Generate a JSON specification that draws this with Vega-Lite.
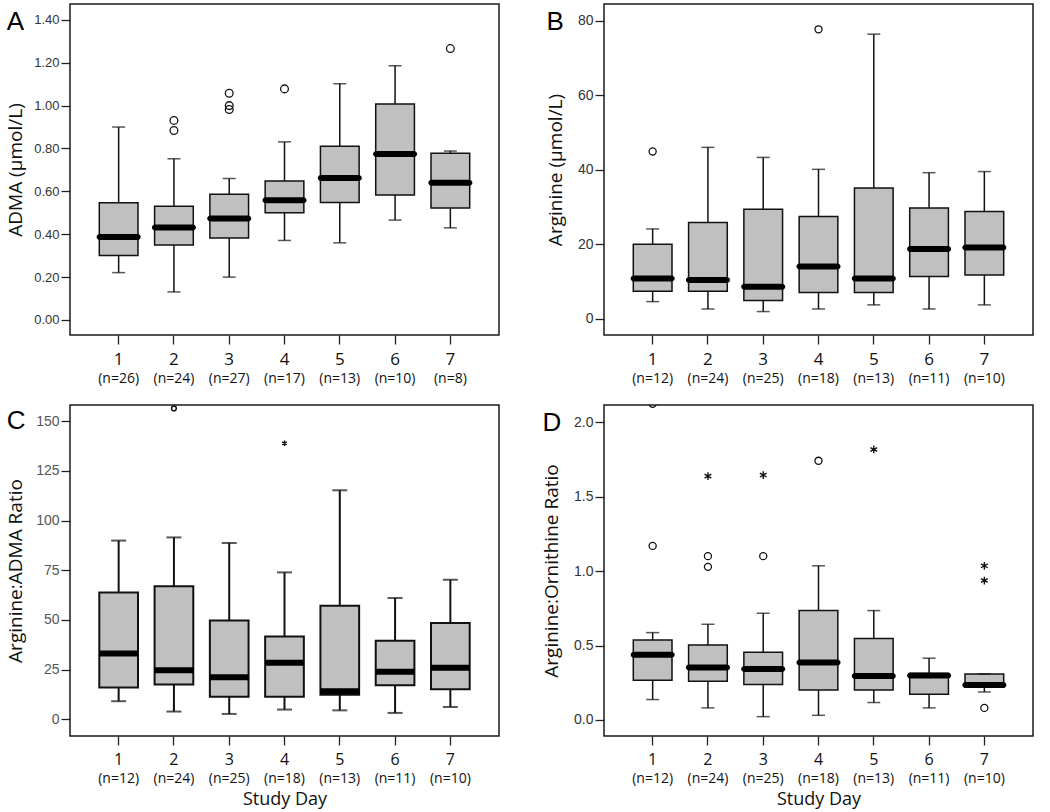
{
  "$schema": "https://vega.github.io/schema/vega-lite/v6.json",
  "background": "white",
  "padding": {"left": 5, "top": 3, "right": 5, "bottom": 1},
  "datasets": {
    "boxA": [
      {"day": 1, "lo": 0.221, "q1": 0.301, "med": 0.387, "q3": 0.547, "hi": 0.900},
      {"day": 2, "lo": 0.131, "q1": 0.350, "med": 0.432, "q3": 0.531, "hi": 0.752},
      {"day": 3, "lo": 0.200, "q1": 0.382, "med": 0.474, "q3": 0.586, "hi": 0.660},
      {"day": 4, "lo": 0.371, "q1": 0.500, "med": 0.559, "q3": 0.648, "hi": 0.831},
      {"day": 5, "lo": 0.360, "q1": 0.548, "med": 0.662, "q3": 0.810, "hi": 1.102},
      {"day": 6, "lo": 0.466, "q1": 0.583, "med": 0.774, "q3": 1.007, "hi": 1.186},
      {"day": 7, "lo": 0.430, "q1": 0.522, "med": 0.640, "q3": 0.778, "hi": 0.788}
    ],
    "outA": [
      {"day": 2, "value": 0.931}, {"day": 2, "value": 0.884},
      {"day": 3, "value": 1.058}, {"day": 3, "value": 1.000}, {"day": 3, "value": 0.982},
      {"day": 4, "value": 1.078}, {"day": 7, "value": 1.266}
    ],
    "boxB": [
      {"day": 1, "lo": 4.57, "q1": 7.35, "med": 10.75, "q3": 20.0, "hi": 24.1},
      {"day": 2, "lo": 2.6, "q1": 7.35, "med": 10.4, "q3": 25.8, "hi": 46.0},
      {"day": 3, "lo": 1.9, "q1": 4.9, "med": 8.6, "q3": 29.4, "hi": 43.3},
      {"day": 4, "lo": 2.6, "q1": 7.0, "med": 14.0, "q3": 27.4, "hi": 40.1},
      {"day": 5, "lo": 3.7, "q1": 7.0, "med": 10.75, "q3": 35.1, "hi": 76.4},
      {"day": 6, "lo": 2.6, "q1": 11.3, "med": 18.7, "q3": 29.7, "hi": 39.2},
      {"day": 7, "lo": 3.7, "q1": 11.7, "med": 19.1, "q3": 28.8, "hi": 39.5}
    ],
    "outB": [
      {"day": 1, "value": 44.9}, {"day": 4, "value": 77.7}
    ],
    "boxC": [
      {"day": 1, "lo": 9.1, "q1": 16.0, "med": 33.1, "q3": 63.8, "hi": 89.9},
      {"day": 2, "lo": 3.9, "q1": 17.5, "med": 24.7, "q3": 66.9, "hi": 91.5},
      {"day": 3, "lo": 2.7, "q1": 11.3, "med": 21.2, "q3": 49.7, "hi": 88.7},
      {"day": 4, "lo": 4.9, "q1": 11.4, "med": 28.4, "q3": 41.7, "hi": 73.9},
      {"day": 5, "lo": 4.5, "q1": 12.3, "med": 14.1, "q3": 57.1, "hi": 115.2},
      {"day": 6, "lo": 3.2, "q1": 17.1, "med": 23.9, "q3": 39.5, "hi": 61.0},
      {"day": 7, "lo": 6.2, "q1": 15.1, "med": 25.9, "q3": 48.5, "hi": 70.2}
    ],
    "outC": [
      {"day": 2, "value": 156.4}
    ],
    "extC": [
      {"day": 4, "value": 138.9}
    ],
    "boxD": [
      {"day": 1, "lo": 0.137, "q1": 0.267, "med": 0.439, "q3": 0.538, "hi": 0.587},
      {"day": 2, "lo": 0.081, "q1": 0.260, "med": 0.352, "q3": 0.504, "hi": 0.643},
      {"day": 3, "lo": 0.022, "q1": 0.238, "med": 0.343, "q3": 0.455, "hi": 0.717},
      {"day": 4, "lo": 0.031, "q1": 0.202, "med": 0.386, "q3": 0.735, "hi": 1.036},
      {"day": 5, "lo": 0.117, "q1": 0.202, "med": 0.296, "q3": 0.547, "hi": 0.735},
      {"day": 6, "lo": 0.081, "q1": 0.173, "med": 0.298, "q3": 0.312, "hi": 0.415},
      {"day": 7, "lo": 0.188, "q1": 0.222, "med": 0.235, "q3": 0.309, "hi": 0.309}
    ],
    "outD": [
      {"day": 1, "value": 1.170}, {"day": 1, "value": 2.125},
      {"day": 2, "value": 1.101}, {"day": 2, "value": 1.029},
      {"day": 3, "value": 1.101}, {"day": 4, "value": 1.742}, {"day": 7, "value": 0.081}
    ],
    "extD": [
      {"day": 2, "value": 1.639}, {"day": 3, "value": 1.646}, {"day": 5, "value": 1.818},
      {"day": 7, "value": 1.036}, {"day": 7, "value": 0.937}
    ]
  },
  "config": {
    "view": {"stroke": "#1a1a1a", "strokeWidth": 1.5},
    "axis": {"grid": false, "domain": false, "tickColor": "#222", "tickWidth": 1.3, "tickSize": 9},
    "title": {"anchor": "start", "frame": "bounds", "baseline": "alphabetic", "offset": -52, "font": "Liberation Sans", "fontSize": 26, "fontWeight": "normal", "color": "#000"}
  },
  "columns": 2,
  "bounds": "flush",
  "spacing": {"row": 70, "column": 105},
  "concat": [
    {
      "width": 429, "height": 331,
      "title": {"text": "A", "anchor": "start", "frame": "bounds", "baseline": "alphabetic", "offset": -52},
      "resolve": {"axis": {"x": "independent"}},
      "layer": [
        {"data": {"name": "boxA"}, "mark": {"type": "rule", "color": "#111", "strokeWidth": 1.5},
         "encoding": {
           "x": {"field": "day", "type": "ordinal", "scale": {"paddingInner": 0.3, "paddingOuter": 0.53},
                 "axis": {"orient": "bottom", "title": null, "labelAngle": 0, "labelFont": "Open Sans", "labelFontSize": 17, "labelColor": "#111", "labelPadding": 7}},
           "y": {"field": "lo", "type": "quantitative", "scale": {"domain": [-0.07, 1.474], "nice": false, "zero": false},
                 "axis": {"title": "ADMA (µmol/L)", "values": [0, 0.2, 0.4, 0.6, 0.8, 1.0, 1.2, 1.4], "format": ".2f", "labelFont": "Liberation Sans", "labelFontSize": 13, "labelColor": "#333", "labelPadding": 2, "titleFont": "Open Sans", "titleFontSize": 19, "titleFontWeight": "normal", "titleColor": "#111", "titlePadding": 8}},
           "y2": {"field": "q1"}}},
        {"data": {"name": "boxA"}, "mark": {"type": "rule", "color": "#111", "strokeWidth": 1.5},
         "encoding": {"x": {"field": "day", "type": "ordinal", "axis": null}, "y": {"field": "q3", "type": "quantitative"}, "y2": {"field": "hi"}}},
        {"data": {"name": "boxA"}, "mark": {"type": "bar", "fill": "#c0c0c0", "stroke": "#111", "strokeWidth": 1.5},
         "encoding": {
           "x": {"field": "day", "type": "ordinal",
                 "axis": {"orient": "bottom", "title": null, "ticks": false, "labelAngle": 0, "labelFont": "Open Sans", "labelFontSize": 14, "labelColor": "#111", "labelPadding": 36,
                          "labelExpr": "['(n=26)','(n=24)','(n=27)','(n=17)','(n=13)','(n=10)','(n=8)'][datum.value - 1]"}},
           "y": {"field": "q1", "type": "quantitative"}, "y2": {"field": "q3"}}},
        {"data": {"name": "boxA"}, "mark": {"type": "tick", "color": "#111", "size": 13, "thickness": 1.5},
         "encoding": {"x": {"field": "day", "type": "ordinal", "axis": null}, "y": {"field": "lo", "type": "quantitative"}}},
        {"data": {"name": "boxA"}, "mark": {"type": "tick", "color": "#111", "size": 13, "thickness": 1.5},
         "encoding": {"x": {"field": "day", "type": "ordinal", "axis": null}, "y": {"field": "hi", "type": "quantitative"}}},
        {"data": {"name": "boxA"}, "mark": {"type": "tick", "color": "#000", "size": 44, "thickness": 6, "cornerRadius": 3, "opacity": 1},
         "encoding": {"x": {"field": "day", "type": "ordinal", "axis": null}, "y": {"field": "med", "type": "quantitative"}}},
        {"data": {"name": "outA"}, "mark": {"type": "point", "shape": "circle", "filled": false, "color": "#111", "strokeWidth": 1.3, "size": 60, "opacity": 1},
         "encoding": {"x": {"field": "day", "type": "ordinal", "axis": null}, "y": {"field": "value", "type": "quantitative"}}}
      ]
    },
    {
      "width": 429, "height": 331,
      "title": {"text": "B", "anchor": "start", "frame": "bounds", "baseline": "alphabetic", "offset": -52},
      "resolve": {"axis": {"x": "independent"}},
      "layer": [
        {"data": {"name": "boxB"}, "mark": {"type": "rule", "color": "#111", "strokeWidth": 1.5},
         "encoding": {
           "x": {"field": "day", "type": "ordinal", "scale": {"paddingInner": 0.3, "paddingOuter": 0.53},
                 "axis": {"orient": "bottom", "title": null, "labelAngle": 0, "labelFont": "Open Sans", "labelFontSize": 17, "labelColor": "#111", "labelPadding": 7}},
           "y": {"field": "lo", "type": "quantitative", "scale": {"domain": [-4.39, 84.5], "nice": false, "zero": false},
                 "axis": {"title": "Arginine (µmol/L)", "values": [0, 20, 40, 60, 80], "labelFont": "Liberation Sans", "labelFontSize": 14, "labelColor": "#333", "labelPadding": 2, "titleFont": "Open Sans", "titleFontSize": 19, "titleFontWeight": "normal", "titleColor": "#111", "titlePadding": 12}},
           "y2": {"field": "q1"}}},
        {"data": {"name": "boxB"}, "mark": {"type": "rule", "color": "#111", "strokeWidth": 1.5},
         "encoding": {"x": {"field": "day", "type": "ordinal", "axis": null}, "y": {"field": "q3", "type": "quantitative"}, "y2": {"field": "hi"}}},
        {"data": {"name": "boxB"}, "mark": {"type": "bar", "fill": "#c0c0c0", "stroke": "#111", "strokeWidth": 1.5},
         "encoding": {
           "x": {"field": "day", "type": "ordinal",
                 "axis": {"orient": "bottom", "title": null, "ticks": false, "labelAngle": 0, "labelFont": "Open Sans", "labelFontSize": 14, "labelColor": "#111", "labelPadding": 36,
                          "labelExpr": "['(n=12)','(n=24)','(n=25)','(n=18)','(n=13)','(n=11)','(n=10)'][datum.value - 1]"}},
           "y": {"field": "q1", "type": "quantitative"}, "y2": {"field": "q3"}}},
        {"data": {"name": "boxB"}, "mark": {"type": "tick", "color": "#111", "size": 13, "thickness": 1.5},
         "encoding": {"x": {"field": "day", "type": "ordinal", "axis": null}, "y": {"field": "lo", "type": "quantitative"}}},
        {"data": {"name": "boxB"}, "mark": {"type": "tick", "color": "#111", "size": 13, "thickness": 1.5},
         "encoding": {"x": {"field": "day", "type": "ordinal", "axis": null}, "y": {"field": "hi", "type": "quantitative"}}},
        {"data": {"name": "boxB"}, "mark": {"type": "tick", "color": "#000", "size": 44, "thickness": 6, "cornerRadius": 3, "opacity": 1},
         "encoding": {"x": {"field": "day", "type": "ordinal", "axis": null}, "y": {"field": "med", "type": "quantitative"}}},
        {"data": {"name": "outB"}, "mark": {"type": "point", "shape": "circle", "filled": false, "color": "#111", "strokeWidth": 1.3, "size": 50, "opacity": 1},
         "encoding": {"x": {"field": "day", "type": "ordinal", "axis": null}, "y": {"field": "value", "type": "quantitative"}}}
      ]
    },
    {
      "width": 429, "height": 331,
      "title": {"text": "C", "anchor": "start", "frame": "bounds", "baseline": "alphabetic", "offset": -52},
      "resolve": {"axis": {"x": "independent"}},
      "layer": [
        {"data": {"name": "boxC"}, "mark": {"type": "rule", "color": "#111", "strokeWidth": 2},
         "encoding": {
           "x": {"field": "day", "type": "ordinal", "scale": {"paddingInner": 0.3, "paddingOuter": 0.53},
                 "axis": {"orient": "bottom", "title": null, "labelAngle": 0, "labelFont": "Open Sans", "labelFontSize": 16, "labelColor": "#111", "labelPadding": 6}},
           "y": {"field": "lo", "type": "quantitative", "scale": {"domain": [-8.4, 158.1], "nice": false, "zero": false},
                 "axis": {"title": "Arginine:ADMA Ratio", "values": [0, 25, 50, 75, 100, 125, 150], "labelFont": "Liberation Sans", "labelFontSize": 14, "labelColor": "#555", "labelPadding": 2, "titleFont": "Open Sans", "titleFontSize": 19, "titleFontWeight": "normal", "titleColor": "#111", "titlePadding": 10}},
           "y2": {"field": "q1"}}},
        {"data": {"name": "boxC"}, "mark": {"type": "rule", "color": "#111", "strokeWidth": 2},
         "encoding": {"x": {"field": "day", "type": "ordinal", "axis": null}, "y": {"field": "q3", "type": "quantitative"}, "y2": {"field": "hi"}}},
        {"data": {"name": "boxC"}, "mark": {"type": "bar", "fill": "#c0c0c0", "stroke": "#111", "strokeWidth": 2},
         "encoding": {
           "x": {"field": "day", "type": "ordinal",
                 "axis": {"orient": "bottom", "title": "Study Day", "titleFont": "Open Sans", "titleFontSize": 18, "titleFontWeight": "normal", "titleColor": "#111", "titlePadding": 5, "ticks": false, "labelAngle": 0, "labelFont": "Open Sans", "labelFontSize": 14, "labelColor": "#111", "labelPadding": 35,
                          "labelExpr": "['(n=12)','(n=24)','(n=25)','(n=18)','(n=13)','(n=11)','(n=10)'][datum.value - 1]"}},
           "y": {"field": "q1", "type": "quantitative"}, "y2": {"field": "q3"}}},
        {"data": {"name": "boxC"}, "mark": {"type": "tick", "color": "#111", "size": 15, "thickness": 2},
         "encoding": {"x": {"field": "day", "type": "ordinal", "axis": null}, "y": {"field": "lo", "type": "quantitative"}}},
        {"data": {"name": "boxC"}, "mark": {"type": "tick", "color": "#111", "size": 15, "thickness": 2},
         "encoding": {"x": {"field": "day", "type": "ordinal", "axis": null}, "y": {"field": "hi", "type": "quantitative"}}},
        {"data": {"name": "boxC"}, "mark": {"type": "tick", "color": "#000", "size": 39, "thickness": 6, "opacity": 1},
         "encoding": {"x": {"field": "day", "type": "ordinal", "axis": null}, "y": {"field": "med", "type": "quantitative"}}},
        {"data": {"name": "outC"}, "mark": {"type": "point", "shape": "circle", "filled": false, "color": "#111", "strokeWidth": 1.5, "size": 22, "opacity": 1},
         "encoding": {"x": {"field": "day", "type": "ordinal", "axis": null}, "y": {"field": "value", "type": "quantitative"}}},
        {"data": {"name": "extC"}, "mark": {"type": "point", "shape": "M0,-1L0,1M-0.87,-0.5L0.87,0.5M-0.87,0.5L0.87,-0.5", "filled": false, "color": "#111", "strokeWidth": 1.4, "size": 30, "opacity": 1},
         "encoding": {"x": {"field": "day", "type": "ordinal", "axis": null}, "y": {"field": "value", "type": "quantitative"}}}
      ]
    },
    {
      "width": 429, "height": 331,
      "title": {"text": "D", "anchor": "start", "frame": "bounds", "baseline": "alphabetic", "offset": -52},
      "resolve": {"axis": {"x": "independent"}},
      "layer": [
        {"data": {"name": "boxD"}, "mark": {"type": "rule", "color": "#111", "strokeWidth": 1.5},
         "encoding": {
           "x": {"field": "day", "type": "ordinal", "scale": {"paddingInner": 0.3, "paddingOuter": 0.53},
                 "axis": {"orient": "bottom", "title": null, "labelAngle": 0, "labelFont": "Open Sans", "labelFontSize": 16, "labelColor": "#111", "labelPadding": 6}},
           "y": {"field": "lo", "type": "quantitative", "scale": {"domain": [-0.108, 2.117], "nice": false, "zero": false},
                 "axis": {"title": "Arginine:Ornithine Ratio", "values": [0, 0.5, 1.0, 1.5, 2.0], "format": ".1f", "labelFont": "Liberation Sans", "labelFontSize": 14, "labelColor": "#333", "labelPadding": 2, "titleFont": "Open Sans", "titleFontSize": 19, "titleFontWeight": "normal", "titleColor": "#111", "titlePadding": 12}},
           "y2": {"field": "q1"}}},
        {"data": {"name": "boxD"}, "mark": {"type": "rule", "color": "#111", "strokeWidth": 1.5},
         "encoding": {"x": {"field": "day", "type": "ordinal", "axis": null}, "y": {"field": "q3", "type": "quantitative"}, "y2": {"field": "hi"}}},
        {"data": {"name": "boxD"}, "mark": {"type": "bar", "fill": "#c0c0c0", "stroke": "#111", "strokeWidth": 1.5},
         "encoding": {
           "x": {"field": "day", "type": "ordinal",
                 "axis": {"orient": "bottom", "title": "Study Day", "titleFont": "Open Sans", "titleFontSize": 18, "titleFontWeight": "normal", "titleColor": "#111", "titlePadding": 5, "ticks": false, "labelAngle": 0, "labelFont": "Open Sans", "labelFontSize": 14, "labelColor": "#111", "labelPadding": 35,
                          "labelExpr": "['(n=12)','(n=24)','(n=25)','(n=18)','(n=13)','(n=11)','(n=10)'][datum.value - 1]"}},
           "y": {"field": "q1", "type": "quantitative"}, "y2": {"field": "q3"}}},
        {"data": {"name": "boxD"}, "mark": {"type": "tick", "color": "#111", "size": 13, "thickness": 1.5},
         "encoding": {"x": {"field": "day", "type": "ordinal", "axis": null}, "y": {"field": "lo", "type": "quantitative"}}},
        {"data": {"name": "boxD"}, "mark": {"type": "tick", "color": "#111", "size": 13, "thickness": 1.5},
         "encoding": {"x": {"field": "day", "type": "ordinal", "axis": null}, "y": {"field": "hi", "type": "quantitative"}}},
        {"data": {"name": "boxD"}, "mark": {"type": "tick", "color": "#000", "size": 44, "thickness": 6, "cornerRadius": 3, "opacity": 1},
         "encoding": {"x": {"field": "day", "type": "ordinal", "axis": null}, "y": {"field": "med", "type": "quantitative"}}},
        {"data": {"name": "outD"}, "mark": {"type": "point", "shape": "circle", "filled": false, "color": "#111", "strokeWidth": 1.3, "size": 50, "opacity": 1, "clip": true},
         "encoding": {"x": {"field": "day", "type": "ordinal", "axis": null}, "y": {"field": "value", "type": "quantitative"}}},
        {"data": {"name": "extD"}, "mark": {"type": "point", "shape": "M0,-1L0,1M-0.87,-0.5L0.87,0.5M-0.87,0.5L0.87,-0.5", "filled": false, "color": "#111", "strokeWidth": 1.4, "size": 60, "opacity": 1},
         "encoding": {"x": {"field": "day", "type": "ordinal", "axis": null}, "y": {"field": "value", "type": "quantitative"}}}
      ]
    }
  ]
}
